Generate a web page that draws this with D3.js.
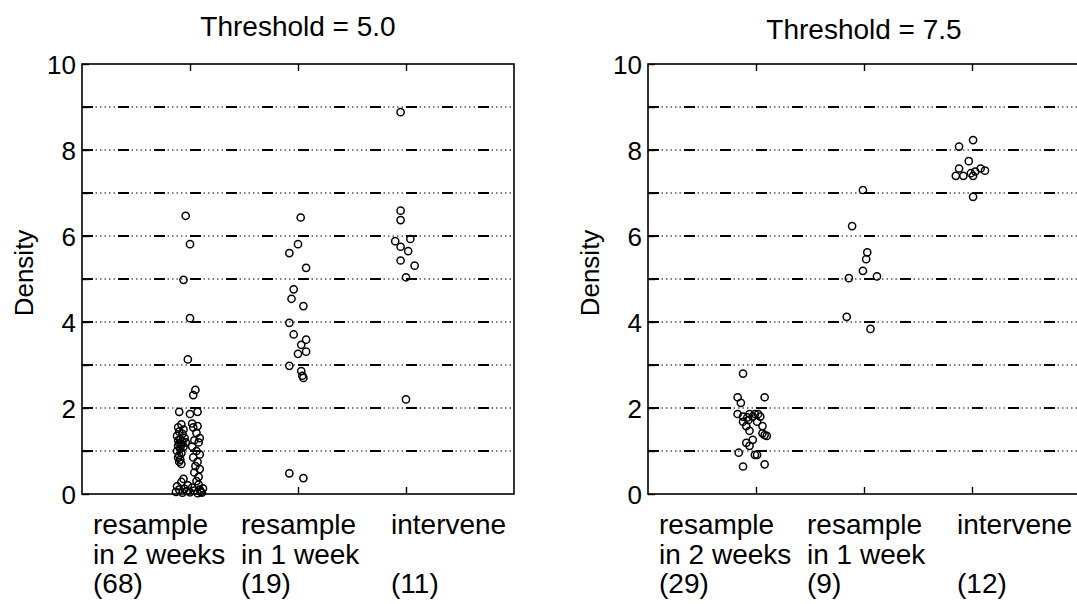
<!DOCTYPE html>
<html>
<head>
<meta charset="utf-8">
<script src="https://cdn.jsdelivr.net/npm/d3@7"></script>
<style>
  body { margin: 0; background: #fff; }
  text { font-family: "Liberation Sans", Arial, Helvetica, sans-serif; fill: #000; }
</style>
</head>
<body>
<script>
// data: [horizontal jitter in category units, density]
const titles = ["Threshold = 5.0", "Threshold = 7.5"];
const categoryLines = [["resample", "in 2 weeks"], ["resample", "in 1 week"], ["intervene", ""]];
const countsLeft = ["(68)", "(19)", "(11)"];
const countsRight = ["(29)", "(9)", "(12)"];
const yTickLabels = [0, 2, 4, 6, 8, 10];
const gridValues = [1, 2, 3, 4, 5, 6, 7, 8, 9];

const left2weeks = [
  [-0.04,6.47],[0,5.81],[-0.06,4.98],[0,4.09],[-0.02,3.13],[0.05,2.42],[0.03,2.30],
  [-0.10,1.91],[0,1.86],[0.07,1.91],[0.02,1.64],[0.07,1.58],
  [-0.08,1.62],[-0.11,1.55],[-0.06,1.50],[-0.10,1.45],[-0.07,1.40],[-0.12,1.35],[-0.05,1.30],
  [-0.09,1.27],[-0.11,1.25],[-0.07,1.22],[-0.04,1.20],[-0.10,1.18],[-0.08,1.15],[-0.11,1.12],
  [-0.06,1.10],[-0.09,1.05],[-0.12,1.00],[-0.08,0.95],[-0.10,0.90],[-0.11,0.85],[-0.09,0.80],
  [-0.10,0.75],[-0.08,0.70],
  [0.03,1.55],[0.06,1.42],[0.09,1.30],[0.04,1.25],[0.08,1.20],[0.02,1.10],[0.06,1.00],
  [0.09,0.92],[0.03,0.85],[0.07,0.75],[0.05,0.65],[0.09,0.58],[0.04,0.50],[0.08,0.40],
  [-0.13,0.05],[-0.10,0.10],[-0.07,0.03],[-0.12,0.18],[-0.05,0.12],[-0.08,0.28],[-0.03,0.07],
  [-0.06,0.35],[-0.02,0.20],[0.00,0.04],[0.02,0.15],[0.04,0.08],[0.06,0.30],[0.07,0.02],
  [0.09,0.10],[0.10,0.05],[0.12,0.13],[0.08,0.22],[0.11,0.03]
];
const left1week = [
  [0.025,6.43],[0,5.81],[-0.08,5.60],[0.075,5.26],[-0.04,4.76],[-0.06,4.54],[0.05,4.37],
  [-0.08,3.98],[-0.04,3.71],[0.075,3.59],[0.03,3.47],[0.075,3.31],[0,3.26],[-0.08,2.98],
  [0.03,2.86],[0.04,2.75],[0.05,2.70],[-0.08,0.48],[0.05,0.37]
];
const leftIntervene = [
  [-0.05,8.88],[-0.05,6.59],[-0.05,6.37],[-0.10,5.88],[0.04,5.93],[-0.05,5.75],
  [0.02,5.65],[-0.05,5.43],[0.08,5.31],[0,5.04],[0,2.20]
];
const right2weeks = [
  [-0.12,2.80],[-0.17,2.25],[-0.14,2.12],[0.08,2.25],[-0.17,1.86],[-0.12,1.80],[-0.06,1.86],
  [-0.01,1.86],[0.02,1.86],[0.04,1.80],[-0.12,1.68],[-0.09,1.58],[-0.07,1.72],[0.01,1.68],
  [0.06,1.58],[-0.06,1.47],[0.06,1.41],[0.08,1.37],[0.10,1.35],[-0.03,1.26],[-0.09,1.19],
  [-0.06,1.12],[-0.16,0.96],[-0.01,0.91],[0.01,0.91],[-0.12,0.64],[0.08,0.69],[-0.03,1.80],
  [-0.08,1.78]
];
const right1week = [
  [-0.01,7.07],[-0.11,6.23],[0.03,5.62],[0.02,5.46],[-0.01,5.19],[-0.14,5.02],[0.12,5.06],
  [-0.16,4.12],[0.06,3.84]
];
const rightIntervene = [
  [0.01,8.23],[-0.12,8.08],[-0.03,7.74],[-0.12,7.57],[-0.15,7.40],[-0.08,7.40],[-0.01,7.46],
  [0.01,7.40],[0.03,7.50],[0.08,7.57],[0.12,7.52],[0.01,6.91]
];

const panels = [
  { title: titles[0], counts: countsLeft, groups: [left2weeks, left1week, leftIntervene] },
  { title: titles[1], counts: countsRight, groups: [right2weeks, right1week, rightIntervene] }
];

// layout
const panelLeft = [82, 648], panelTop = 64, width = 432, height = 430;
const titleBaseline = [36, 39];
const labelOffset = [-97, -57, -15];
const rowBaseline = [470, 500, 529];

const svg = d3.select("body").append("svg")
    .attr("width", 1077)
    .attr("height", 604);

panels.forEach((p, i) => {
  const g = svg.append("g")
      .attr("transform", `translate(${panelLeft[i]},${panelTop})`);

  const x = d3.scaleLinear().domain([0, 4]).range([0, width]);
  const y = d3.scaleLinear().domain([0, 10]).range([height, 0]);

  // dash-dot-dot grid: a dotted line under a sparse dashed one
  const grid = g.append("g");
  grid.selectAll("line.dots")
    .data(gridValues)
    .join("line")
      .attr("class", "dots")
      .attr("x1", 0).attr("x2", width)
      .attr("y1", d => y(d)).attr("y2", d => y(d))
      .attr("stroke", "#000")
      .attr("stroke-width", 1.2)
      .attr("stroke-dasharray", "1.5,3");
  grid.selectAll("line.dash")
    .data(gridValues)
    .join("line")
      .attr("class", "dash")
      .attr("x1", 0).attr("x2", width)
      .attr("y1", d => y(d)).attr("y2", d => y(d))
      .attr("stroke", "#000")
      .attr("stroke-width", 2)
      .attr("stroke-dasharray", "11,25");

  // y axis, ticks inside
  const yAxis = g.append("g")
      .call(d3.axisLeft(y).tickValues(d3.range(0, 11))
        .tickSizeInner(-7).tickSizeOuter(0).tickPadding(6)
        .tickFormat(d => yTickLabels.includes(d) ? d : ""));
  yAxis.select(".domain").remove();
  yAxis.selectAll("line").attr("stroke-width", 1.4);
  yAxis.selectAll("text")
      .attr("font-size", 26)
      .attr("font-family", "Liberation Sans, Arial, sans-serif")
      .attr("dy", "0.36em");

  // x ticks top and bottom, inside
  const xb = g.append("g").attr("transform", `translate(0,${height})`)
      .call(d3.axisBottom(x).tickValues([1, 2, 3]).tickSizeInner(-7).tickSizeOuter(0).tickFormat(""));
  const xt = g.append("g")
      .call(d3.axisTop(x).tickValues([1, 2, 3]).tickSizeInner(-7).tickSizeOuter(0).tickFormat(""));
  [xb, xt].forEach(a => {
    a.select(".domain").remove();
    a.selectAll("line").attr("stroke-width", 1.4);
  });

  // frame
  g.append("rect")
      .attr("width", width).attr("height", height)
      .attr("fill", "none")
      .attr("stroke", "#000")
      .attr("stroke-width", 1.6);

  // points
  p.groups.forEach((pts, k) => {
    g.append("g").selectAll("circle")
      .data(pts)
      .join("circle")
        .attr("cx", d => x(k + 1 + d[0]))
        .attr("cy", d => y(d[1]))
        .attr("r", 3.6)
        .attr("fill", "none")
        .attr("stroke", "#000")
        .attr("stroke-width", 1.5);
  });

  // title
  g.append("text")
      .attr("x", width / 2)
      .attr("y", titleBaseline[i] - panelTop)
      .attr("text-anchor", "middle")
      .attr("font-size", 28)
      .text(p.title);

  // y label
  g.append("text")
      .attr("transform", `translate(-49,${height / 2 - 6}) rotate(-90)`)
      .attr("text-anchor", "middle")
      .attr("font-size", 26)
      .text("Density");

  // category labels
  categoryLines.forEach((lines, k) => {
    const rows = [lines[0], lines[1], p.counts[k]];
    g.append("g").selectAll("text")
      .data(rows)
      .join("text")
        .attr("x", x(k + 1) + labelOffset[k])
        .attr("y", (d, r) => rowBaseline[r])
        .attr("font-size", 28)
        .text(d => d);
  });
});
</script>
</body>
</html>
